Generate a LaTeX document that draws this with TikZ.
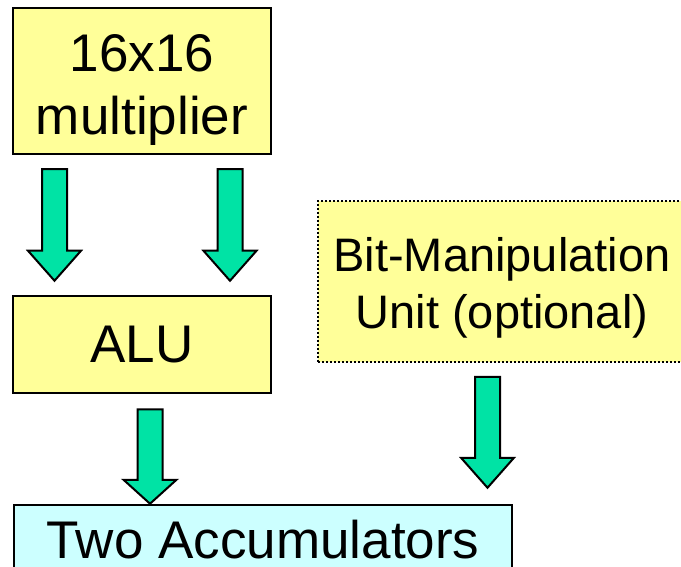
\documentclass[tikz,border=0pt]{standalone}
\usepackage{fontspec}
\setmainfont{Liberation Sans}
\usetikzlibrary{calc}
\definecolor{boxyellow}{RGB}{255,255,153}
\definecolor{arrowgreen}{RGB}{0,227,165}
\definecolor{acccyan}{RGB}{204,255,255}
\tikzset{
  unitbox/.style={draw=black, line width=2.5pt, fill=boxyellow, inner sep=0pt, align=center,
    font=\fontsize{53}{63.6}\selectfont},
  optbox/.style={draw=black, line width=2pt, dash pattern=on 2pt off 2pt, fill=boxyellow, inner sep=0pt,
    align=center, font=\fontsize{47}{57}\selectfont},
  accbox/.style={draw=black, line width=2.5pt, fill=acccyan, inner sep=0pt,
    font=\fontsize{53}{63.6}\selectfont},
  blockarr/.style={draw=black, line width=2pt, fill=arrowgreen, line join=miter},
}
% #1 top centre of shaft, #2 tip, #3 head length
\newcommand{\blockarrow}[3]{%
  \draw[blockarr] let \p1=(#1), \p2=(#2) in
    (\x1-12.5pt,\y1) -- (\x1+12.5pt,\y1) -- (\x1+12.5pt,\y2+#3) -- (\x1+26.5pt,\y2+#3)
    -- (\x1,\y2) -- (\x1-26.5pt,\y2+#3) -- (\x1-12.5pt,\y2+#3) -- cycle;}
\begin{document}
\begin{tikzpicture}[x=1pt,y=1pt]
\useasboundingbox (0,0) rectangle (681,566);
\node[unitbox, minimum width=258pt, minimum height=146pt] (mult) at (142,485)
  {\rule{0pt}{55pt}16x16\\multiplier};
\node[unitbox, minimum width=258pt, minimum height=97pt, text height=37pt, text depth=0pt] (alu) at (142,221.5) {ALU};
\node[optbox, minimum width=368pt, minimum height=161pt] (bmu) at (502,284.5)
  {\rule{0pt}{46pt}Bit-Manipulation\\Unit (optional)};
\node[accbox, minimum width=498pt, minimum height=68pt, text height=38pt, text depth=0pt] (acc) at (263,27) {Two Accumulators};
% arrow end points, derived from the boxes they join
\coordinate (a1top) at ($(mult.south)+(-87.5pt,-14pt)$);
\coordinate (a1tip) at ($(alu.north)+(-87.5pt,14pt)$);
\coordinate (a2top) at ($(mult.south)+(88pt,-14pt)$);
\coordinate (a2tip) at ($(alu.north)+(88pt,14pt)$);
\coordinate (a3top) at ($(alu.south)+(8pt,-15pt)$);
\coordinate (a3tip) at (a3top |- acc.north);
\coordinate (a4top) at ($(bmu.south)+(-14.5pt,-14pt)$);
\coordinate (a4base) at (a4top |- acc.north);
\coordinate (a4tip) at ($(a4base)+(0pt,16pt)$);
\blockarrow{a1top}{a1tip}{30pt}
\blockarrow{a2top}{a2tip}{30pt}
\blockarrow{a3top}{a3tip}{24pt}
\blockarrow{a4top}{a4tip}{30pt}
\end{tikzpicture}
\end{document}
